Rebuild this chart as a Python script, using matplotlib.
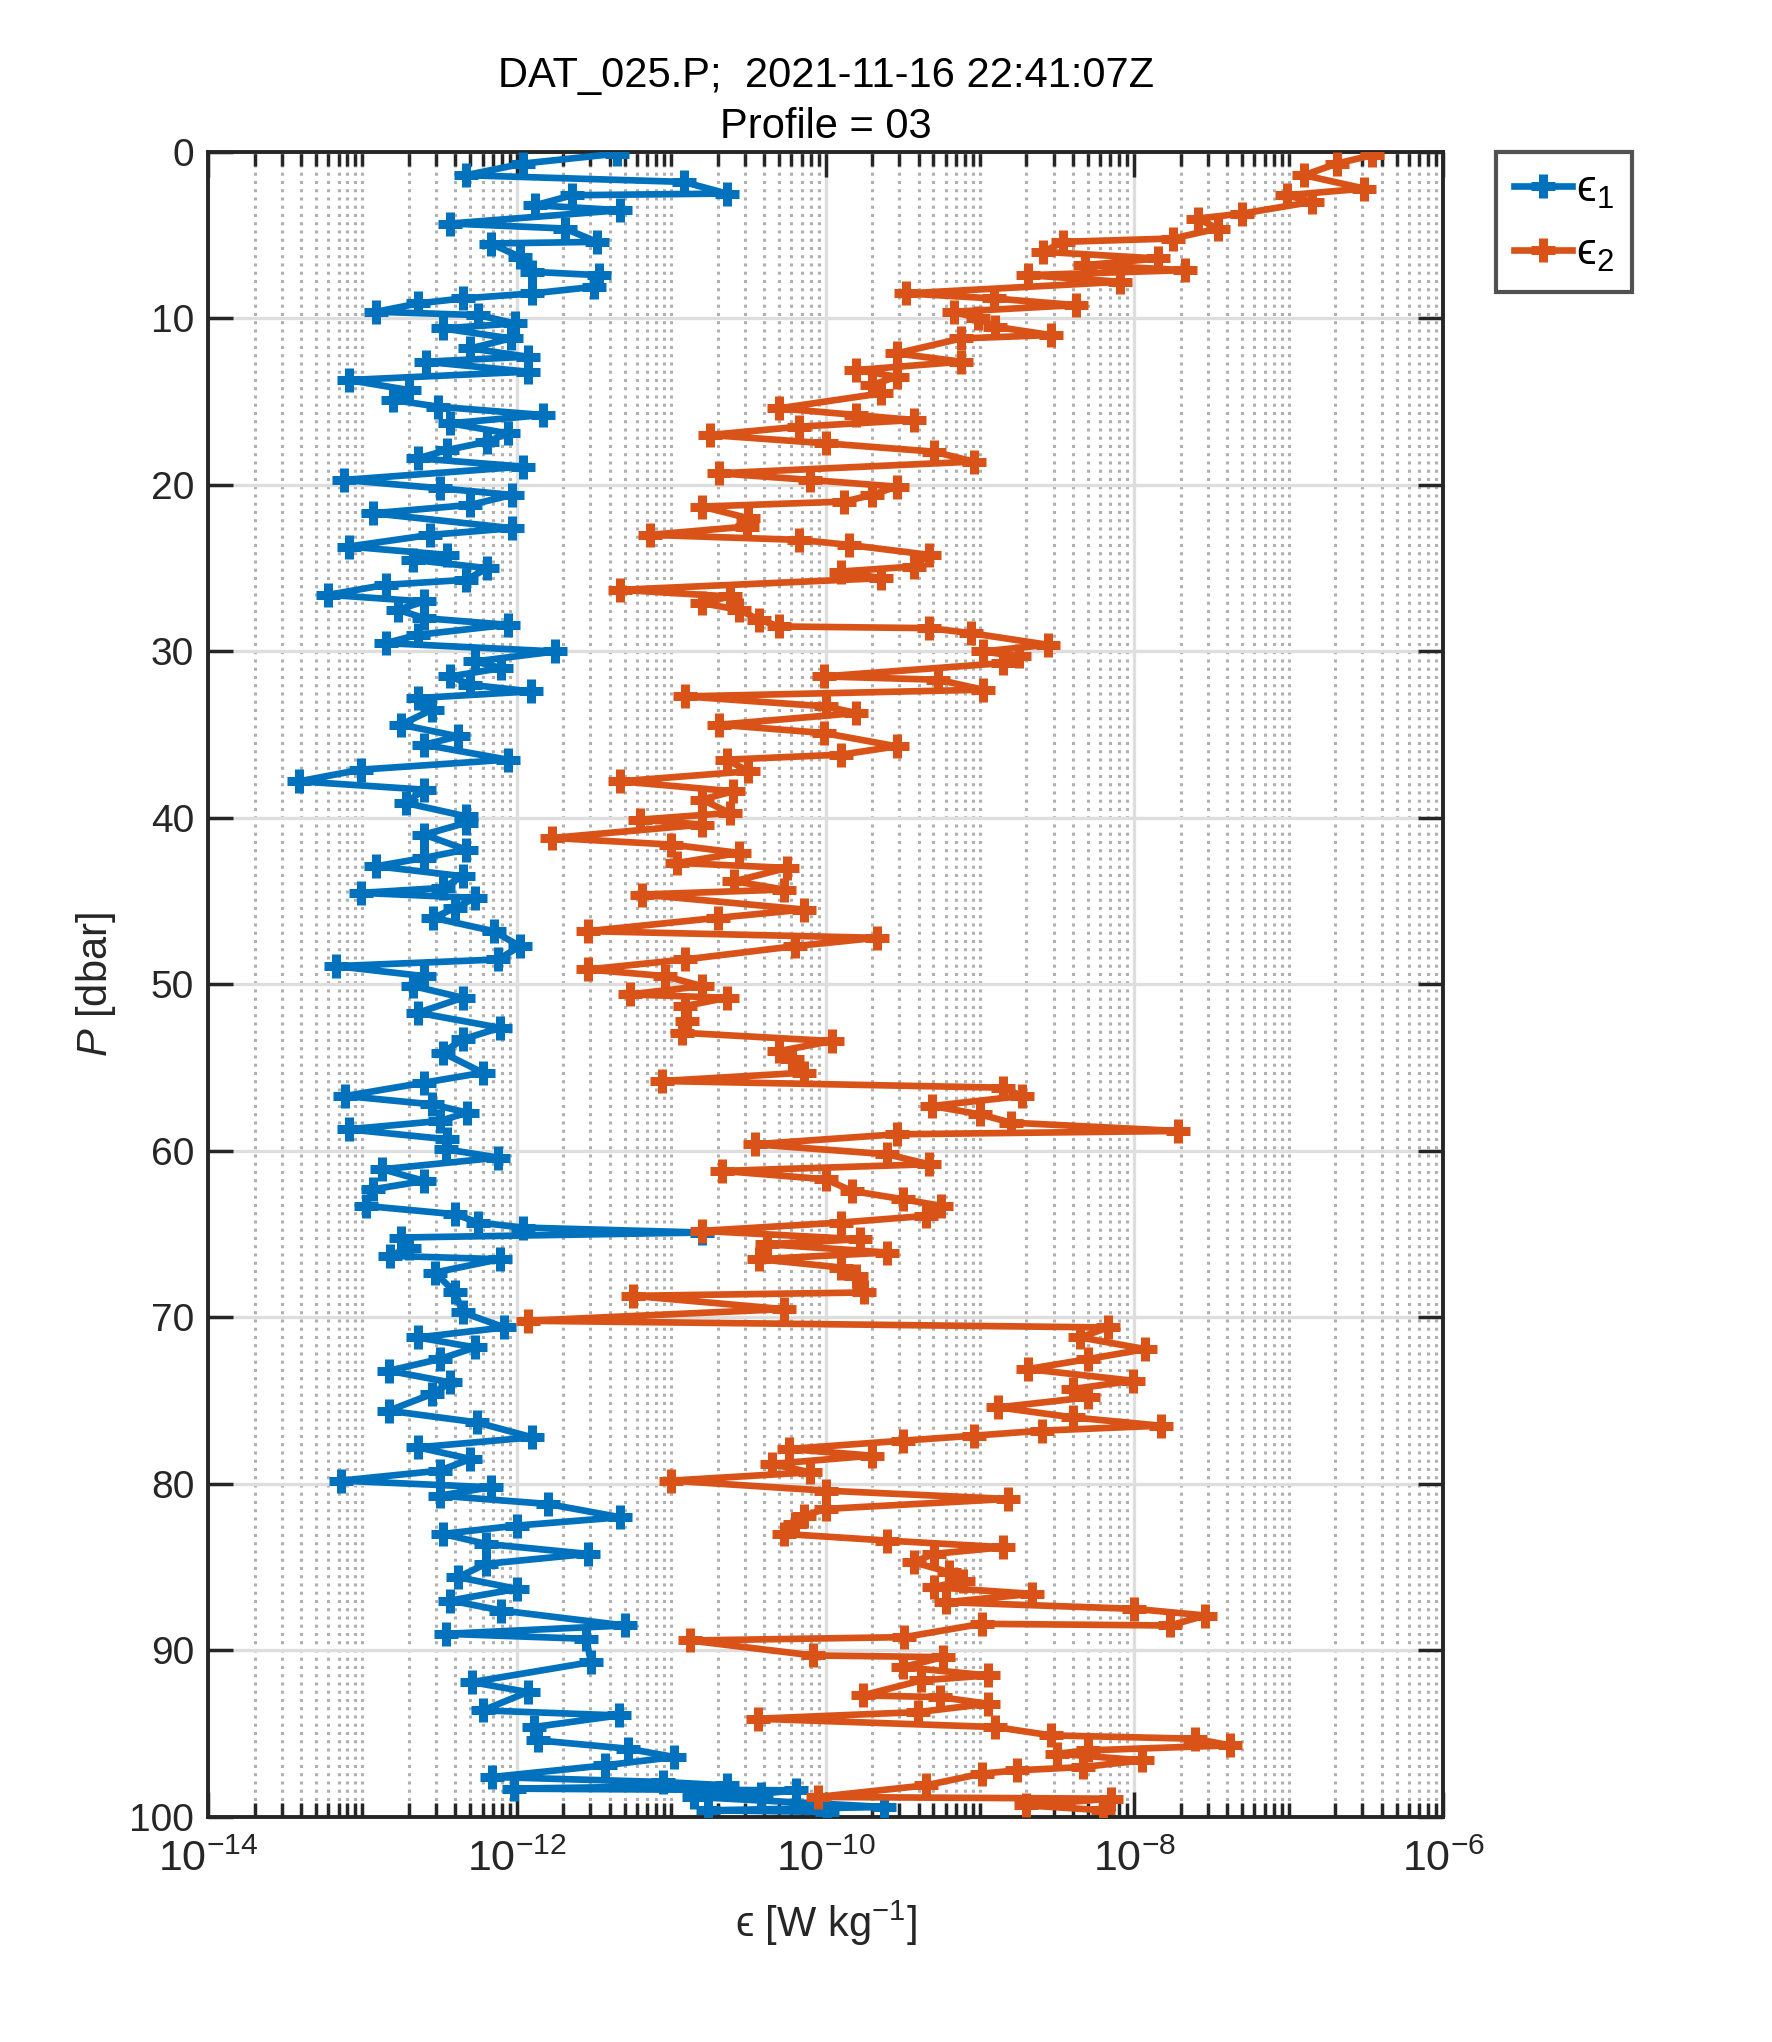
import numpy as np
import matplotlib
matplotlib.use('Agg')
import matplotlib.pyplot as plt
from matplotlib.ticker import FixedLocator, LogLocator, NullLocator, NullFormatter, LogFormatterSciNotation

plt.rcParams['font.family'] = ['Liberation Sans', 'DejaVu Sans']
plt.rcParams['mathtext.fontset'] = 'custom'
plt.rcParams['mathtext.rm'] = 'Liberation Sans'
plt.rcParams['mathtext.it'] = 'Liberation Sans:italic'

# eps_1 (blue): pressure [dbar], log10(eps)
p1 = [0.1, 0.7, 1.4, 1.8, 2.5, 2.6, 3.2, 3.5, 4.3, 4.6, 5.4, 5.5, 6.3, 7.2, 7.4, 8.1,
      8.5, 8.8, 9.1, 9.6, 9.8, 10.3, 10.6, 11.2, 11.8, 12.3, 12.6, 13.2, 13.7, 14.3,
      14.9, 15.3, 15.8, 16.3, 16.9, 17.4, 17.9, 18.4, 18.9, 19.7, 20.2, 20.6, 21.2,
      21.7, 22.6, 23.0, 23.7, 24.2, 24.5, 25.0, 25.7, 26.0, 26.6, 27.0, 27.5, 28.0,
      28.4, 29.0, 29.5, 30.0, 30.6, 31.0, 31.5, 32.0, 32.4, 32.8, 33.5, 34.4, 35.1,
      35.6, 36.5, 37.1, 37.8, 38.3, 39.1, 39.9, 40.3, 41.0, 41.9, 42.4, 42.9, 43.5,
      44.2, 44.5, 44.8, 45.4, 46.0, 46.8, 47.7, 48.5, 48.9, 49.5, 50.1, 50.8, 51.7,
      52.6, 53.3, 54.1, 55.3, 55.9, 56.7, 57.2, 57.7, 58.2, 58.7, 59.3, 59.9, 60.4,
      61.1, 61.8, 62.3, 63.3, 63.8, 64.3, 64.6, 64.9, 65.2, 65.8, 66.3, 66.5, 67.3,
      68.5, 69.7, 70.6, 71.2, 71.8, 72.5, 73.2, 73.9, 74.6, 75.6, 76.3, 77.2, 77.8,
      78.5, 79.2, 79.8, 80.2, 80.7, 81.2, 82.0, 82.5, 83.0, 83.6, 84.2, 84.8, 85.6,
      86.3, 87.0, 87.6, 88.5, 89.0, 89.3, 90.7, 91.9, 92.5, 93.6, 93.9, 94.6, 95.4,
      95.9, 96.4, 96.9, 97.6, 97.9, 98.1, 98.3, 98.4, 98.6, 98.8, 99.4, 99.6, 99.7]
e1 = [-11.35, -11.96, -12.33, -10.92, -10.64, -11.64, -11.88, -11.33, -12.43, -11.69,
      -11.48, -12.17, -11.98, -11.90, -11.47, -11.50, -11.90, -12.35, -12.64, -12.91,
      -12.25, -12.01, -12.48, -12.04, -12.30, -11.93, -12.59, -11.93, -13.09, -12.70,
      -12.80, -12.51, -11.83, -12.43, -12.06, -12.19, -12.45, -12.64, -11.96, -13.12,
      -12.50, -12.03, -12.30, -12.93, -12.03, -12.56, -13.09, -12.45, -12.67, -12.19,
      -12.33, -12.85, -13.22, -12.60, -12.77, -12.60, -12.06, -12.64, -12.85, -11.75,
      -12.27, -12.10, -12.43, -12.30, -11.91, -12.64, -12.55, -12.75, -12.38, -12.60,
      -12.06, -13.01, -13.41, -12.60, -12.72, -12.33, -12.33, -12.60, -12.33, -12.60,
      -12.91, -12.35, -12.48, -13.01, -12.27, -12.40, -12.54, -12.15, -11.98, -12.12,
      -13.17, -12.60, -12.67, -12.35, -12.64, -12.11, -12.35, -12.48, -12.22, -12.60,
      -13.11, -12.55, -12.32, -12.50, -13.09, -12.45, -12.46, -12.12, -12.87, -12.60,
      -12.93, -12.98, -12.40, -12.25, -11.96, -10.80, -12.75, -12.70, -12.82, -12.11,
      -12.53, -12.40, -12.35, -12.08, -12.64, -12.27, -12.50, -12.83, -12.43, -12.55,
      -12.83, -12.26, -11.90, -12.64, -12.30, -12.50, -13.14, -12.17, -12.50, -11.80,
      -11.33, -12.00, -12.48, -12.20, -11.54, -12.20, -12.38, -12.00, -12.43, -12.10,
      -11.30, -12.46, -11.55, -11.52, -12.29, -11.93, -12.22, -11.34, -11.89, -11.86,
      -11.28, -10.98, -11.43, -12.16, -11.05, -10.64, -12.02, -10.19, -10.42, -10.85,
      -9.62, -10.76, -9.99]

# eps_2 (orange)
p2 = [0.2, 0.7, 1.4, 2.2, 2.6, 3.0, 3.7, 4.0, 4.6, 5.2, 5.4, 6.0, 6.4, 6.8, 7.1, 7.4,
      7.8, 8.5, 8.8, 9.2, 9.6, 10.0, 10.5, 11.0, 11.2, 12.1, 12.6, 13.1, 13.5, 14.0,
      14.5, 15.4, 15.8, 16.1, 16.5, 17.0, 17.5, 18.0, 18.6, 19.3, 19.7, 20.1, 20.6,
      21.0, 21.3, 22.0, 22.5, 23.0, 23.3, 23.6, 24.2, 24.9, 25.2, 25.6, 26.3, 26.7,
      27.1, 27.5, 28.1, 28.5, 28.6, 28.9, 29.6, 30.0, 30.3, 30.7, 31.5, 31.7, 32.3,
      32.7, 33.3, 33.7, 34.4, 34.9, 35.7, 36.2, 36.5, 37.2, 37.8, 38.4, 38.9, 39.7,
      40.1, 40.4, 41.2, 41.6, 42.1, 42.7, 43.0, 43.8, 44.3, 44.6, 45.5, 46.0, 46.8,
      47.2, 47.7, 48.5, 49.1, 49.5, 50.1, 50.6, 50.8, 51.3, 52.2, 52.9, 53.4, 54.0,
      54.5, 55.3, 55.8, 56.2, 56.7, 57.3, 57.8, 58.3, 58.8, 59.0, 59.6, 60.2, 60.8,
      61.2, 61.7, 62.4, 62.9, 63.3, 63.9, 64.3, 64.8, 65.3, 65.6, 66.1, 66.5, 67.0,
      67.5, 68.5, 68.7, 69.5, 70.2, 70.6, 71.2, 71.9, 72.5, 73.1, 73.8, 74.3, 74.8,
      75.4, 76.0, 76.5, 76.8, 77.1, 77.4, 77.9, 78.3, 78.8, 79.3, 79.8, 80.4, 80.9,
      81.5, 81.9, 82.4, 83.0, 83.4, 83.8, 84.2, 84.7, 85.3, 85.8, 86.2, 86.6, 87.1,
      87.5, 87.9, 88.5, 88.4, 89.2, 89.4, 90.3, 90.4, 91.0, 91.5, 91.8, 92.7, 92.8,
      93.2, 93.7, 94.1, 94.6, 95.1, 95.3, 95.7, 96.0, 96.2, 96.6, 97.0, 97.2, 97.4,
      98.1, 98.8, 98.9, 99.3, 99.6]
e2 = [-6.46, -6.69, -6.90, -6.51, -7.01, -6.85, -7.30, -7.59, -7.46, -7.75, -8.46,
      -8.59, -7.85, -8.32, -7.67, -8.69, -8.09, -9.48, -8.91, -8.38, -9.17, -9.01,
      -8.90, -8.54, -9.12, -9.54, -9.12, -9.80, -9.54, -9.70, -9.64, -10.30, -9.80,
      -9.43, -10.17, -10.75, -10.00, -9.30, -9.04, -10.69, -10.10, -9.54, -9.70,
      -9.88, -10.80, -10.50, -10.51, -11.14, -10.17, -9.85, -9.33, -9.43, -9.90,
      -9.64, -11.33, -10.62, -10.80, -10.56, -10.43, -10.30, -9.33, -9.06, -8.56,
      -8.98, -8.75, -8.85, -10.01, -9.27, -8.98, -10.91, -10.00, -9.80, -10.69,
      -10.01, -9.54, -9.90, -10.64, -10.50, -11.33, -10.60, -10.80, -10.62, -11.20,
      -10.80, -11.77, -11.00, -10.56, -10.96, -10.25, -10.59, -10.27, -11.19, -10.14,
      -10.70, -11.54, -9.67, -10.20, -10.91, -11.54, -11.04, -10.80, -11.27, -10.64,
      -10.91, -10.90, -10.93, -9.96, -10.30, -10.22, -10.14, -11.06, -8.85, -8.73,
      -9.31, -9.00, -8.80, -7.72, -9.54, -10.46, -9.60, -9.33, -10.67, -10.00, -9.83,
      -9.50, -9.25, -9.35, -9.90, -10.80, -9.78, -10.38, -9.60, -10.43, -9.90, -9.80,
      -9.75, -11.25, -10.27, -11.93, -8.17, -8.35, -7.93, -8.30, -8.69, -8.01, -8.40,
      -8.30, -8.88, -8.40, -7.83, -8.60, -9.04, -9.50, -10.24, -9.70, -10.35, -10.10,
      -11.00, -10.00, -8.82, -10.00, -10.14, -10.20, -10.27, -9.60, -8.85, -9.30,
      -9.43, -9.20, -9.11, -9.30, -8.66, -9.22, -8.00, -7.54, -7.77, -8.99, -9.49,
      -10.88, -10.08, -9.24, -9.50, -8.95, -9.38, -9.76, -9.26, -8.95, -9.40, -10.44,
      -8.90, -8.54, -7.61, -7.38, -8.30, -8.50, -7.95, -8.33, -8.76, -8.99, -9.35,
      -10.05, -8.15, -8.70, -8.20]

x_major = [1e-14, 1e-12, 1e-10, 1e-8, 1e-6]
y_ticks = [0, 10, 20, 30, 40, 50, 60, 70, 80, 90, 100]

blue = '#0072BD'
orange = '#D95319'
ink = '#262626'

fig = plt.figure(figsize=(17.72, 20.42), dpi=100)
ax = fig.add_axes([0.1174, 0.1102, 0.697, 0.8154])

ax.plot(10 ** np.array(e1), p1, '-+', color=blue, lw=4.8, ms=17, mew=6.5,
        label='ϵ$_1$', zorder=3)
ax.plot(10 ** np.array(e2), p2, '-+', color=orange, lw=4.8, ms=17, mew=6.5,
        label='ϵ$_2$', zorder=3)

ax.set_xscale('log')
ax.set_xlim(1e-14, 1e-6)
ax.set_ylim(100, 0)
ax.xaxis.set_major_locator(FixedLocator(x_major))
ax.xaxis.set_major_formatter(LogFormatterSciNotation())
ax.xaxis.set_minor_locator(LogLocator(base=10, subs=np.arange(1, 10), numticks=100))
ax.xaxis.set_minor_formatter(NullFormatter())
ax.set_yticks(y_ticks)
ax.yaxis.set_minor_locator(NullLocator())

ax.grid(which='major', color='#dedede', lw=2.4, ls='-', zorder=0)
ax.grid(which='minor', axis='x', color='#b0b0b0', lw=2.2, ls=(0, (1, 1.7)), zorder=0)
ax.set_axisbelow(True)

ax.tick_params(which='both', direction='in', top=True, right=True, color=ink,
               width=2.5, labelcolor=ink)
ax.tick_params(axis='x', which='major', length=18, pad=16, labelsize=31)
ax.tick_params(axis='y', which='major', length=18, pad=10, labelsize=28)
ax.tick_params(which='minor', length=10)
for s in ax.spines.values():
    s.set_linewidth(2.8)
    s.set_color(ink)

ax.set_title('DAT_025.P;  2021-11-16 22:41:07Z\nProfile = 03', fontsize=30,
             color='black', pad=10, linespacing=1.35)
ax.set_xlabel('ϵ [W kg$^{-1}$]', fontsize=30, color=ink, labelpad=14)
ax.set_ylabel(r'$P$ [dbar]', fontsize=30, color=ink, labelpad=8)

leg = ax.legend(loc='upper left', bbox_to_anchor=(1.043, 1.0), fontsize=32,
                frameon=True, fancybox=False, handlelength=1.3, borderpad=0.4,
                labelspacing=0.5, handletextpad=0.1, borderaxespad=0)
leg.get_frame().set_edgecolor(ink)
leg.get_frame().set_linewidth(3)

fig.savefig('out.png', dpi=100, facecolor='white')
